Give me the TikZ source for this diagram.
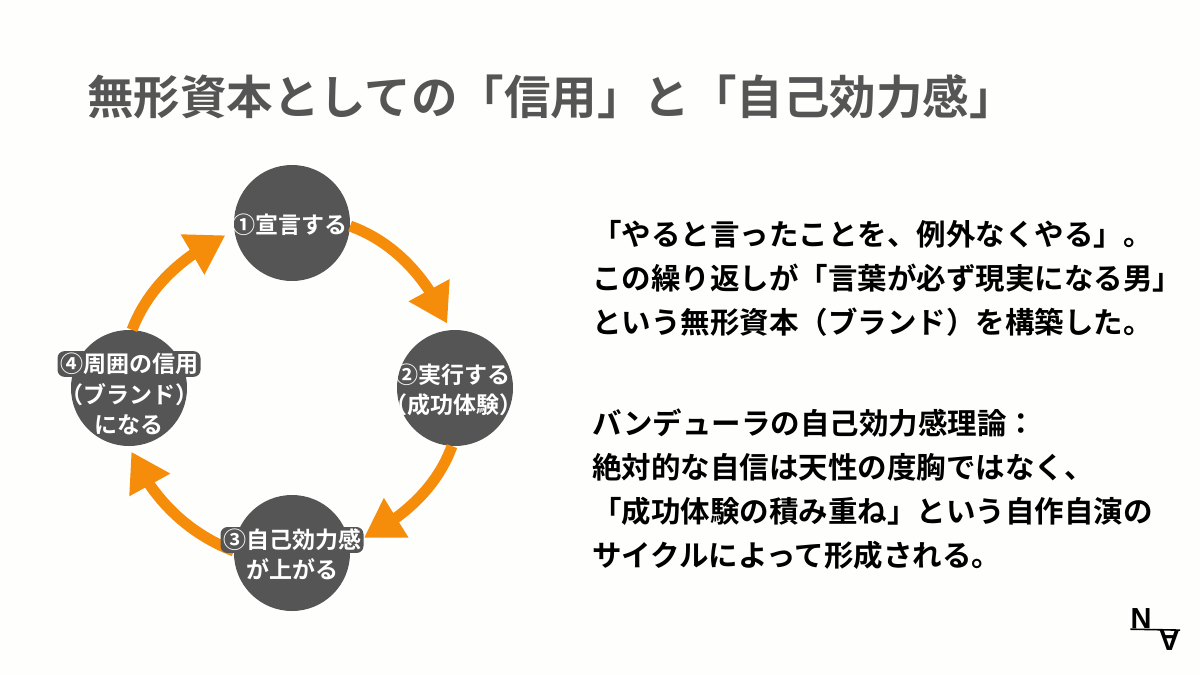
\documentclass[tikz,border=0pt]{standalone}
\usepackage{fontspec}
\setmainfont{Noto Sans CJK JP}[BoldFont={* Bold}]
\newfontfamily\logofont{Liberation Sans}
\usetikzlibrary{arrows.meta,bending}
\definecolor{darkgray}{HTML}{555555}
\definecolor{flowcolor}{HTML}{F58C0A}
\definecolor{paper}{HTML}{FEFEFD}
\tikzset{
    stage/.style={shape=circle,fill=darkgray,minimum size=116pt,inner sep=0pt},
    stagetext/.style={text=white,font=\fontsize{23}{30.5}\selectfont\bfseries,align=center,inner sep=0pt},
    stagehalo/.style={stagetext,fill=darkgray,rounded corners=7pt,inner xsep=2.5pt,inner ysep=2pt},
    flow/.style={draw=flowcolor,line width=11pt,-{Triangle[length=38pt,width=44pt]},looseness=0.9},
    bodytext/.style={text=black,font=\fontsize{29.5}{44}\selectfont\bfseries,align=left,inner sep=0pt,anchor=west},
    logotext/.style={text=black,font=\logofont\fontsize{29}{29}\selectfont\bfseries,inner sep=0pt}
}
\begin{document}
\begin{tikzpicture}[x=1pt,y=-1pt]
    \useasboundingbox (0,0) rectangle (1200,675);
    \fill[paper] (0,0) rectangle (1200,675);
    % title
    \node[text=darkgray,font=\fontsize{46.5}{50}\selectfont\bfseries,inner sep=0pt,anchor=west] (title) at (87,97) {無形資本としての「信用」と「自己効力感」};
    % cycle
    \node[stage] (A) at (292,223) {};
    \node[stage] (B) at (455,388) {};
    \node[stage] (C) at (292,553) {};
    \node[stage] (D) at (129,388) {};
    \draw[flow,shorten >=7pt] (A.-3) to[out=-20,in=112] (B.95);
    \draw[flow,shorten >=16pt] (B.-93) to[out=-110,in=25] (C.8);
    \draw[flow,shorten >=6pt] (C.178) to[out=159,in=-68] (D.-90);
    \draw[flow,shorten >=10pt] (D.87) to[out=69,in=204] (A.188);
    \node[stagetext] (Atext) at (290,225) {①宣言する};
    \node[stagetext] (Btext) at (453,390) {②実行する\\（成功体験）};
    \node[stagehalo] (Ctop) at (292,540) {③自己効力感};
    \node[stagetext] (Cbottom) at (292,569) {が上がる};
    \node[stagehalo] (Dtop) at (129,364) {④周囲の信用};
    \node[stagetext] (Dbottom) at (129,409) {（ブランド）\\になる};
    % right column
    \node[bodytext] (para1) at (592,278) {「やると言ったことを、例外なくやる」。\\この繰り返しが「言葉が必ず現実になる男」\\という無形資本（ブランド）を構築した。};
    \node[bodytext] (para2) at (592,489) {バンデューラの自己効力感理論：\\絶対的な自信は天性の度胸ではなく、\\「成功体験の積み重ね」という自作自演の\\サイクルによって形成される。};
    % logo
    \node[logotext] (logoN) at (1141,619) {N};
    \node[logotext,rotate=180] (logoA) at (1169.5,640.3) {A};
    \draw[black,line width=1.6pt] (logoN.south west) -- (logoA.south west);
\end{tikzpicture}
\end{document}
